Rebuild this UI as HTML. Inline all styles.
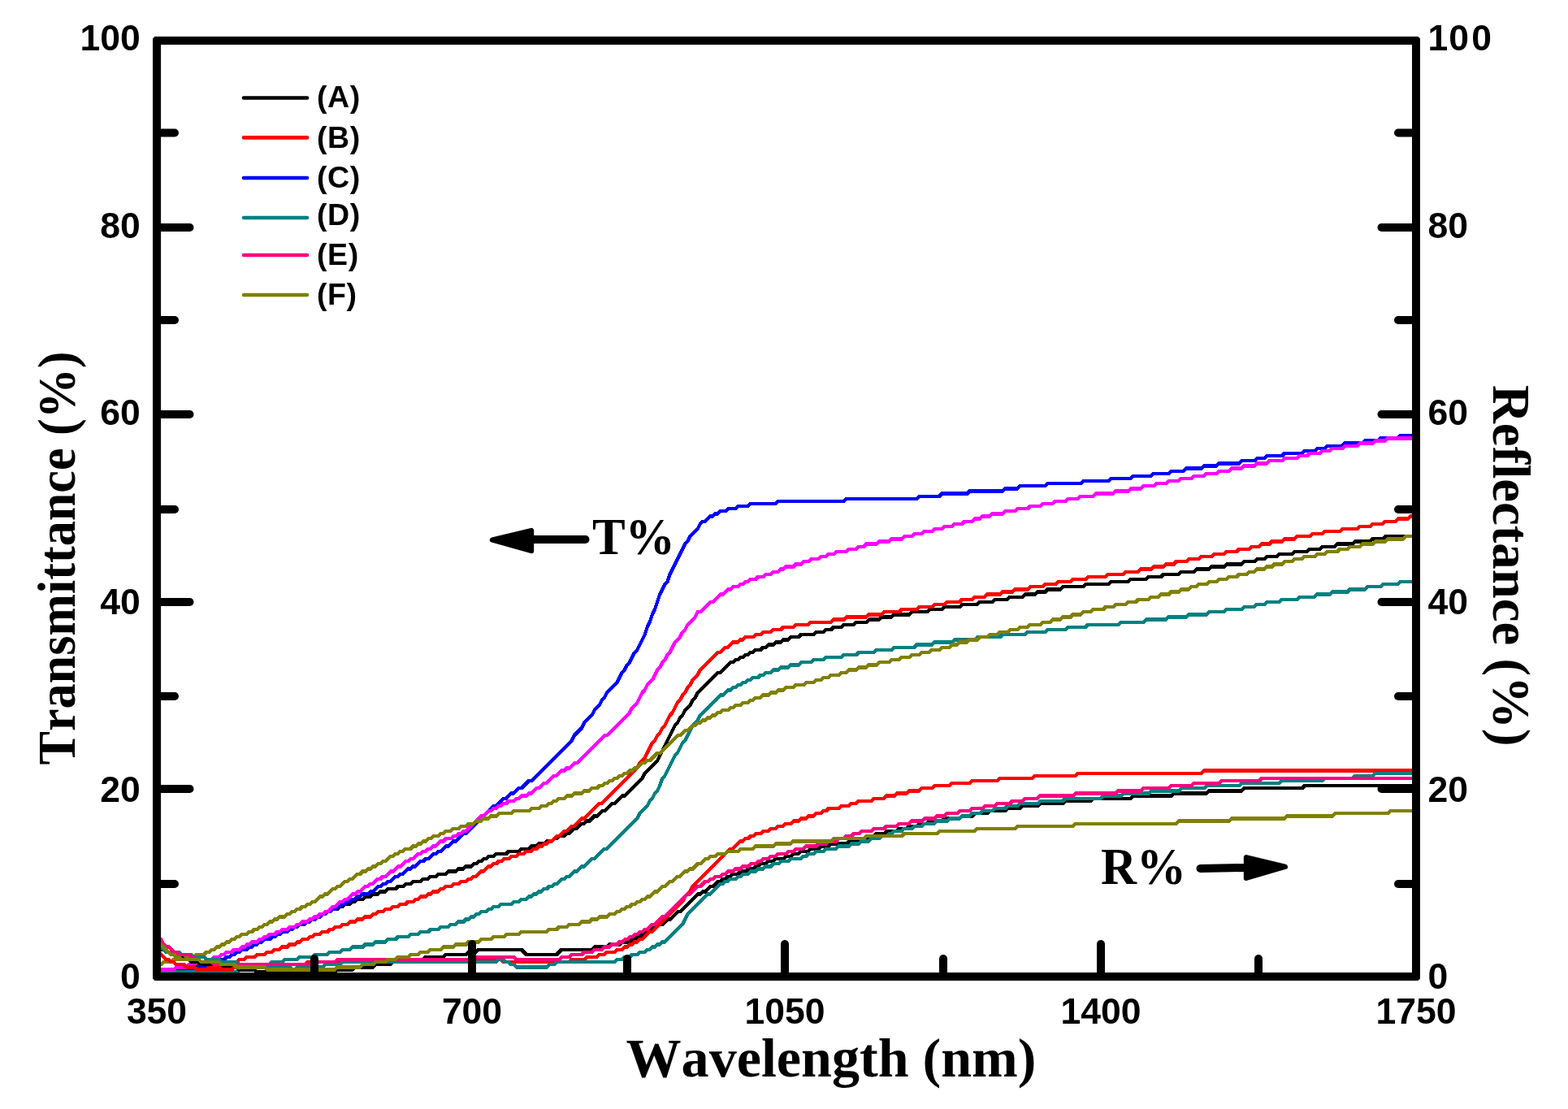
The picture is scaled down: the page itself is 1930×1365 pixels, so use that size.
<!DOCTYPE html>
<html lang="en"><head><meta charset="utf-8"><title>Transmittance and Reflectance vs Wavelength</title>
<style>
html,body{margin:0;padding:0;background:#fff;}
body{width:1930px;height:1365px;overflow:hidden;}
svg{display:block;}
.tick{font-family:"Liberation Sans",Arial,sans-serif;font-weight:bold;font-size:44.5px;fill:#000;font-kerning:none;}
.leg{font-family:"Liberation Sans",Arial,sans-serif;font-weight:bold;font-size:37.5px;fill:#000;}
.ttl{font-family:"Liberation Serif","Times New Roman",serif;font-weight:bold;fill:#000;font-kerning:none;}
.crv{fill:none;stroke-width:4.3;stroke-linejoin:miter;stroke-linecap:butt;}
</style></head><body>
<svg width="1930" height="1365" viewBox="0 0 1930 1365">
<rect x="0" y="0" width="1930" height="1365" fill="#ffffff"/>
<defs><clipPath id="plotclip"><rect x="198" y="55" width="1540" height="1143"/></clipPath></defs>
<g clip-path="url(#plotclip)" shape-rendering="crispEdges">
<path class="crv" stroke="#000000" d="M195.3,1196.6 L213.9,1196.6 L217.0,1193.5 L229.4,1193.5 L232.5,1190.4 L238.7,1190.4 L241.8,1187.3 L244.9,1187.3 L248.0,1184.2 L251.1,1184.2 L254.2,1181.1 L260.4,1181.1 L263.5,1178.0 L269.7,1178.0 L272.8,1174.9 L275.9,1174.9 L279.0,1171.8 L285.2,1171.8 L288.3,1168.7 L294.5,1168.7 L297.6,1165.6 L300.7,1165.6 L303.8,1162.5 L306.9,1162.5 L310.0,1159.4 L316.2,1159.4 L319.3,1156.3 L322.4,1156.3 L325.5,1153.2 L331.7,1153.2 L334.8,1150.1 L337.9,1150.1 L341.0,1147.0 L347.2,1147.0 L350.3,1143.9 L353.4,1143.9 L356.5,1140.8 L362.7,1140.8 L365.8,1137.7 L368.9,1137.7 L372.0,1134.6 L378.2,1134.6 L381.3,1131.5 L384.4,1131.5 L387.5,1128.4 L393.7,1128.4 L396.8,1125.3 L399.9,1125.3 L403.0,1122.2 L406.1,1122.2 L409.2,1119.1 L415.4,1119.1 L418.5,1116.0 L421.6,1116.0 L424.7,1112.9 L430.9,1112.9 L434.0,1109.8 L437.1,1109.8 L440.2,1106.7 L446.4,1106.7 L449.5,1103.6 L455.7,1103.6 L458.8,1100.5 L465.0,1100.5 L468.1,1097.4 L474.3,1097.4 L477.4,1094.3 L486.7,1094.3 L489.8,1091.2 L496.0,1091.2 L499.1,1088.1 L505.3,1088.1 L508.4,1085.0 L517.7,1085.0 L520.8,1081.9 L527.0,1081.9 L530.1,1078.8 L536.3,1078.8 L539.4,1075.7 L548.7,1075.7 L551.8,1072.6 L561.1,1072.6 L564.2,1069.5 L570.4,1069.5 L573.5,1066.4 L579.7,1066.4 L582.8,1063.3 L585.9,1063.3 L589.0,1060.2 L592.1,1060.2 L595.2,1057.1 L598.3,1057.1 L601.4,1054.0 L607.6,1054.0 L610.7,1050.9 L623.1,1050.9 L626.2,1047.8 L638.6,1047.8 L641.7,1044.7 L651.0,1044.7 L654.1,1041.6 L660.3,1041.6 L663.4,1038.5 L669.6,1038.5 L672.7,1035.4 L678.9,1035.4 L682.0,1032.3 L685.1,1032.3 L688.2,1029.2 L694.4,1029.2 L697.5,1026.1 L700.6,1026.1 L703.7,1023.0 L706.8,1019.9 L709.9,1019.9 L713.0,1016.8 L716.1,1013.7 L719.2,1013.7 L722.3,1010.6 L725.4,1010.6 L728.5,1007.5 L731.6,1004.4 L734.7,1004.4 L737.8,1001.3 L740.9,998.2 L744.0,998.2 L747.1,995.1 L750.2,992.0 L753.3,988.9 L756.4,988.9 L759.5,985.8 L762.6,982.7 L765.7,979.6 L768.8,979.6 L771.9,976.5 L775.0,973.4 L778.1,970.3 L781.2,967.2 L784.3,964.1 L787.4,961.0 L790.5,957.9 L793.6,951.7 L796.7,948.6 L799.8,945.5 L802.9,942.4 L806.0,939.3 L809.1,936.2 L812.2,930.0 L815.3,923.8 L818.4,917.6 L821.5,911.4 L824.6,905.2 L827.7,899.0 L830.8,892.8 L833.9,889.7 L837.0,883.5 L840.1,880.4 L843.2,874.2 L846.3,871.1 L849.4,868.0 L852.5,861.8 L855.6,858.7 L858.7,852.5 L861.8,849.4 L864.9,846.3 L868.0,843.2 L871.1,840.1 L874.2,837.0 L877.3,833.9 L880.4,830.8 L883.5,827.7 L886.6,827.7 L889.7,824.6 L892.8,821.5 L895.9,818.4 L899.0,815.3 L902.1,815.3 L905.2,812.2 L908.3,812.2 L911.4,809.1 L914.5,809.1 L917.6,806.0 L920.7,806.0 L923.8,802.9 L926.9,802.9 L930.0,799.8 L936.2,799.8 L939.3,796.7 L942.4,796.7 L945.5,793.6 L951.7,793.6 L954.8,790.5 L961.0,790.5 L964.1,787.4 L970.3,787.4 L973.4,784.3 L982.7,784.3 L985.8,781.2 L1001.3,781.2 L1004.4,778.1 L1013.7,778.1 L1016.8,775.0 L1023.0,775.0 L1026.1,771.9 L1035.4,771.9 L1038.5,768.8 L1050.9,768.8 L1054.0,765.7 L1066.4,765.7 L1069.5,762.6 L1081.9,762.6 L1085.0,759.5 L1097.4,759.5 L1100.5,756.4 L1119.1,756.4 L1122.2,753.3 L1140.8,753.3 L1143.9,750.2 L1159.4,750.2 L1162.5,747.1 L1181.1,747.1 L1184.2,744.0 L1202.8,744.0 L1205.9,740.9 L1221.4,740.9 L1224.5,737.8 L1240.0,737.8 L1243.1,734.7 L1258.6,734.7 L1261.7,731.6 L1274.1,731.6 L1277.2,728.5 L1286.5,728.5 L1289.6,725.4 L1305.1,725.4 L1308.2,722.3 L1333.0,722.3 L1336.1,719.2 L1364.0,719.2 L1367.1,716.1 L1388.8,716.1 L1391.9,713.0 L1410.5,713.0 L1413.6,709.9 L1429.1,709.9 L1432.2,706.8 L1450.8,706.8 L1453.9,703.7 L1469.4,703.7 L1472.5,700.6 L1488.0,700.6 L1491.1,697.5 L1506.6,697.5 L1509.7,694.4 L1528.3,694.4 L1531.4,691.3 L1543.8,691.3 L1546.9,688.2 L1556.2,688.2 L1559.3,685.1 L1571.7,685.1 L1574.8,682.0 L1590.3,682.0 L1593.4,678.9 L1608.9,678.9 L1612.0,675.8 L1624.4,675.8 L1627.5,672.7 L1643.0,672.7 L1646.1,669.6 L1664.7,669.6 L1667.8,666.5 L1686.4,666.5 L1689.5,663.4 L1701.9,663.4 L1705.0,660.3 L1739.1,660.3"/>
<path class="crv" stroke="#ff0000" d="M195.3,1196.6 L229.4,1196.6 L232.5,1193.5 L254.2,1193.5 L257.3,1190.4 L269.7,1190.4 L272.8,1187.3 L279.0,1187.3 L282.1,1184.2 L291.4,1184.2 L294.5,1181.1 L300.7,1181.1 L303.8,1178.0 L313.1,1178.0 L316.2,1174.9 L325.5,1174.9 L328.6,1171.8 L334.8,1171.8 L337.9,1168.7 L344.1,1168.7 L347.2,1165.6 L353.4,1165.6 L356.5,1162.5 L362.7,1162.5 L365.8,1159.4 L368.9,1159.4 L372.0,1156.3 L378.2,1156.3 L381.3,1153.2 L384.4,1153.2 L387.5,1150.1 L393.7,1150.1 L396.8,1147.0 L403.0,1147.0 L406.1,1143.9 L409.2,1143.9 L412.3,1140.8 L418.5,1140.8 L421.6,1137.7 L427.8,1137.7 L430.9,1134.6 L437.1,1134.6 L440.2,1131.5 L446.4,1131.5 L449.5,1128.4 L455.7,1128.4 L458.8,1125.3 L461.9,1125.3 L465.0,1122.2 L471.2,1122.2 L474.3,1119.1 L480.5,1119.1 L483.6,1116.0 L489.8,1116.0 L492.9,1112.9 L499.1,1112.9 L502.2,1109.8 L508.4,1109.8 L511.5,1106.7 L514.6,1106.7 L517.7,1103.6 L523.9,1103.6 L527.0,1100.5 L530.1,1100.5 L533.2,1097.4 L539.4,1097.4 L542.5,1094.3 L545.6,1094.3 L548.7,1091.2 L554.9,1091.2 L558.0,1088.1 L564.2,1088.1 L567.3,1085.0 L573.5,1085.0 L576.6,1081.9 L579.7,1081.9 L582.8,1078.8 L585.9,1078.8 L589.0,1075.7 L592.1,1072.6 L595.2,1072.6 L598.3,1069.5 L601.4,1066.4 L604.5,1066.4 L607.6,1063.3 L610.7,1063.3 L613.8,1060.2 L616.9,1060.2 L620.0,1057.1 L626.2,1057.1 L629.3,1054.0 L635.5,1054.0 L638.6,1050.9 L644.8,1050.9 L647.9,1047.8 L654.1,1047.8 L657.2,1044.7 L660.3,1044.7 L663.4,1041.6 L666.5,1041.6 L669.6,1038.5 L672.7,1038.5 L675.8,1035.4 L678.9,1035.4 L682.0,1032.3 L685.1,1029.2 L688.2,1029.2 L691.3,1026.1 L694.4,1023.0 L697.5,1023.0 L700.6,1019.9 L703.7,1016.8 L706.8,1016.8 L709.9,1013.7 L713.0,1010.6 L716.1,1007.5 L719.2,1007.5 L722.3,1004.4 L725.4,1001.3 L728.5,998.2 L731.6,995.1 L734.7,992.0 L737.8,988.9 L740.9,988.9 L744.0,985.8 L747.1,982.7 L750.2,979.6 L753.3,976.5 L756.4,973.4 L759.5,970.3 L762.6,967.2 L765.7,964.1 L768.8,961.0 L771.9,957.9 L775.0,954.8 L778.1,951.7 L781.2,948.6 L784.3,945.5 L787.4,939.3 L790.5,936.2 L793.6,933.1 L796.7,926.9 L799.8,920.7 L802.9,914.5 L806.0,911.4 L809.1,905.2 L812.2,902.1 L815.3,895.9 L818.4,892.8 L821.5,886.6 L824.6,880.4 L827.7,877.3 L830.8,871.1 L833.9,864.9 L837.0,861.8 L840.1,855.6 L843.2,852.5 L846.3,846.3 L849.4,843.2 L852.5,837.0 L855.6,833.9 L858.7,830.8 L861.8,824.6 L864.9,821.5 L868.0,818.4 L871.1,815.3 L874.2,812.2 L877.3,809.1 L880.4,806.0 L883.5,802.9 L886.6,802.9 L889.7,799.8 L892.8,796.7 L895.9,796.7 L899.0,793.6 L902.1,790.5 L908.3,790.5 L911.4,787.4 L914.5,787.4 L917.6,784.3 L926.9,784.3 L930.0,781.2 L936.2,781.2 L939.3,778.1 L948.6,778.1 L951.7,775.0 L961.0,775.0 L964.1,771.9 L976.5,771.9 L979.6,768.8 L995.1,768.8 L998.2,765.7 L1023.0,765.7 L1026.1,762.6 L1038.5,762.6 L1041.6,759.5 L1066.4,759.5 L1069.5,756.4 L1085.0,756.4 L1088.1,753.3 L1106.7,753.3 L1109.8,750.2 L1128.4,750.2 L1131.5,747.1 L1147.0,747.1 L1150.1,744.0 L1162.5,744.0 L1165.6,740.9 L1181.1,740.9 L1184.2,737.8 L1196.6,737.8 L1199.7,734.7 L1212.1,734.7 L1215.2,731.6 L1230.7,731.6 L1233.8,728.5 L1246.2,728.5 L1249.3,725.4 L1264.8,725.4 L1267.9,722.3 L1283.4,722.3 L1286.5,719.2 L1298.9,719.2 L1302.0,716.1 L1317.5,716.1 L1320.6,713.0 L1336.1,713.0 L1339.2,709.9 L1360.9,709.9 L1364.0,706.8 L1382.6,706.8 L1385.7,703.7 L1401.2,703.7 L1404.3,700.6 L1416.7,700.6 L1419.8,697.5 L1432.2,697.5 L1435.3,694.4 L1444.6,694.4 L1447.7,691.3 L1460.1,691.3 L1463.2,688.2 L1475.6,688.2 L1478.7,685.1 L1491.1,685.1 L1494.2,682.0 L1506.6,682.0 L1509.7,678.9 L1522.1,678.9 L1525.2,675.8 L1537.6,675.8 L1540.7,672.7 L1550.0,672.7 L1553.1,669.6 L1562.4,669.6 L1565.5,666.5 L1577.9,666.5 L1581.0,663.4 L1593.4,663.4 L1596.5,660.3 L1612.0,660.3 L1615.1,657.2 L1627.5,657.2 L1630.6,654.1 L1649.2,654.1 L1652.3,651.0 L1670.9,651.0 L1674.0,647.9 L1686.4,647.9 L1689.5,644.8 L1701.9,644.8 L1705.0,641.7 L1717.4,641.7 L1720.5,638.6 L1732.9,638.6 L1736.0,635.5 L1739.1,635.5"/>
<path class="crv" stroke="#0000ff" d="M195.3,1196.6 L229.4,1196.6 L232.5,1193.5 L241.8,1193.5 L244.9,1190.4 L251.1,1190.4 L254.2,1187.3 L260.4,1187.3 L263.5,1184.2 L266.6,1184.2 L269.7,1181.1 L275.9,1181.1 L279.0,1178.0 L282.1,1178.0 L285.2,1174.9 L288.3,1174.9 L291.4,1171.8 L294.5,1171.8 L297.6,1168.7 L303.8,1168.7 L306.9,1165.6 L310.0,1165.6 L313.1,1162.5 L316.2,1162.5 L319.3,1159.4 L322.4,1159.4 L325.5,1156.3 L331.7,1156.3 L334.8,1153.2 L337.9,1153.2 L341.0,1150.1 L344.1,1150.1 L347.2,1147.0 L353.4,1147.0 L356.5,1143.9 L359.6,1143.9 L362.7,1140.8 L365.8,1140.8 L368.9,1137.7 L375.1,1137.7 L378.2,1134.6 L381.3,1134.6 L384.4,1131.5 L387.5,1131.5 L390.6,1128.4 L393.7,1128.4 L396.8,1125.3 L399.9,1125.3 L403.0,1122.2 L406.1,1122.2 L409.2,1119.1 L412.3,1119.1 L415.4,1116.0 L418.5,1116.0 L421.6,1112.9 L424.7,1112.9 L427.8,1109.8 L430.9,1109.8 L434.0,1106.7 L437.1,1106.7 L440.2,1103.6 L443.3,1103.6 L446.4,1100.5 L452.6,1100.5 L455.7,1097.4 L458.8,1097.4 L461.9,1094.3 L465.0,1091.2 L468.1,1091.2 L471.2,1088.1 L474.3,1088.1 L477.4,1085.0 L480.5,1085.0 L483.6,1081.9 L486.7,1078.8 L489.8,1078.8 L492.9,1075.7 L496.0,1075.7 L499.1,1072.6 L502.2,1069.5 L505.3,1069.5 L508.4,1066.4 L511.5,1066.4 L514.6,1063.3 L517.7,1060.2 L520.8,1060.2 L523.9,1057.1 L527.0,1057.1 L530.1,1054.0 L533.2,1050.9 L536.3,1050.9 L539.4,1047.8 L542.5,1047.8 L545.6,1044.7 L548.7,1041.6 L551.8,1041.6 L554.9,1038.5 L558.0,1035.4 L561.1,1035.4 L564.2,1032.3 L567.3,1029.2 L570.4,1026.1 L573.5,1026.1 L576.6,1023.0 L579.7,1019.9 L582.8,1016.8 L585.9,1013.7 L589.0,1010.6 L592.1,1007.5 L595.2,1004.4 L598.3,1001.3 L601.4,998.2 L604.5,995.1 L607.6,992.0 L610.7,992.0 L613.8,988.9 L616.9,985.8 L620.0,982.7 L623.1,982.7 L626.2,979.6 L629.3,976.5 L632.4,976.5 L635.5,973.4 L638.6,970.3 L641.7,970.3 L644.8,967.2 L647.9,964.1 L651.0,961.0 L654.1,961.0 L657.2,957.9 L660.3,954.8 L663.4,951.7 L666.5,948.6 L669.6,945.5 L672.7,942.4 L675.8,939.3 L678.9,936.2 L682.0,933.1 L685.1,930.0 L688.2,926.9 L691.3,923.8 L694.4,920.7 L697.5,917.6 L700.6,914.5 L703.7,911.4 L706.8,905.2 L709.9,902.1 L713.0,899.0 L716.1,895.9 L719.2,889.7 L722.3,886.6 L725.4,883.5 L728.5,880.4 L731.6,874.2 L734.7,871.1 L737.8,868.0 L740.9,861.8 L744.0,858.7 L747.1,852.5 L750.2,849.4 L753.3,846.3 L756.4,843.2 L759.5,840.1 L762.6,833.9 L765.7,827.7 L768.8,824.6 L771.9,818.4 L775.0,815.3 L778.1,809.1 L781.2,802.9 L784.3,799.8 L787.4,793.6 L790.5,787.4 L793.6,781.2 L796.7,771.9 L799.8,765.7 L802.9,756.4 L806.0,750.2 L809.1,740.9 L812.2,731.6 L815.3,725.4 L818.4,719.2 L821.5,716.1 L824.6,706.8 L827.7,700.6 L830.8,694.4 L833.9,688.2 L837.0,682.0 L840.1,675.8 L843.2,669.6 L846.3,666.5 L849.4,660.3 L852.5,657.2 L855.6,654.1 L858.7,651.0 L861.8,644.8 L864.9,641.7 L868.0,641.7 L871.1,638.6 L874.2,635.5 L877.3,635.5 L880.4,632.4 L883.5,632.4 L886.6,629.3 L892.8,629.3 L895.9,626.2 L905.2,626.2 L908.3,623.1 L920.7,623.1 L923.8,620.0 L954.8,620.0 L957.9,616.9 L1038.5,616.9 L1041.6,613.8 L1128.4,613.8 L1131.5,610.7 L1156.3,610.7 L1159.4,607.6 L1190.4,607.6 L1193.5,604.5 L1233.8,604.5 L1236.9,601.4 L1252.4,601.4 L1255.5,598.3 L1286.5,598.3 L1289.6,595.2 L1329.9,595.2 L1333.0,592.1 L1364.0,592.1 L1367.1,589.0 L1391.9,589.0 L1395.0,585.9 L1416.7,585.9 L1419.8,582.8 L1438.4,582.8 L1441.5,579.7 L1457.0,579.7 L1460.1,576.6 L1478.7,576.6 L1481.8,573.5 L1497.3,573.5 L1500.4,570.4 L1525.2,570.4 L1528.3,567.3 L1543.8,567.3 L1546.9,564.2 L1556.2,564.2 L1559.3,561.1 L1577.9,561.1 L1581.0,558.0 L1602.7,558.0 L1605.8,554.9 L1618.2,554.9 L1621.3,551.8 L1630.6,551.8 L1633.7,548.7 L1652.3,548.7 L1655.4,545.6 L1677.1,545.6 L1680.2,542.5 L1695.7,542.5 L1698.8,539.4 L1720.5,539.4 L1723.6,536.3 L1739.1,536.3"/>
<path class="crv" stroke="#008080" d="M195.3,1196.6 L291.4,1196.6 L294.5,1193.5 L310.0,1193.5 L313.1,1190.4 L319.3,1190.4 L322.4,1187.3 L331.7,1187.3 L334.8,1184.2 L347.2,1184.2 L350.3,1181.1 L365.8,1181.1 L368.9,1178.0 L384.4,1178.0 L387.5,1174.9 L403.0,1174.9 L406.1,1171.8 L418.5,1171.8 L421.6,1168.7 L430.9,1168.7 L434.0,1165.6 L446.4,1165.6 L449.5,1162.5 L458.8,1162.5 L461.9,1159.4 L474.3,1159.4 L477.4,1156.3 L486.7,1156.3 L489.8,1153.2 L502.2,1153.2 L505.3,1150.1 L514.6,1150.1 L517.7,1147.0 L527.0,1147.0 L530.1,1143.9 L539.4,1143.9 L542.5,1140.8 L551.8,1140.8 L554.9,1137.7 L561.1,1137.7 L564.2,1134.6 L570.4,1134.6 L573.5,1131.5 L576.6,1131.5 L579.7,1128.4 L582.8,1128.4 L585.9,1125.3 L589.0,1125.3 L592.1,1122.2 L598.3,1122.2 L601.4,1119.1 L604.5,1119.1 L607.6,1116.0 L613.8,1116.0 L616.9,1112.9 L629.3,1112.9 L632.4,1109.8 L638.6,1109.8 L641.7,1106.7 L647.9,1106.7 L651.0,1103.6 L654.1,1103.6 L657.2,1100.5 L660.3,1100.5 L663.4,1097.4 L666.5,1097.4 L669.6,1094.3 L672.7,1094.3 L675.8,1091.2 L678.9,1091.2 L682.0,1088.1 L685.1,1088.1 L688.2,1085.0 L691.3,1081.9 L694.4,1081.9 L697.5,1078.8 L700.6,1078.8 L703.7,1075.7 L706.8,1072.6 L709.9,1072.6 L713.0,1069.5 L716.1,1066.4 L719.2,1066.4 L722.3,1063.3 L725.4,1060.2 L728.5,1057.1 L731.6,1057.1 L734.7,1054.0 L737.8,1050.9 L740.9,1047.8 L744.0,1044.7 L747.1,1044.7 L750.2,1041.6 L753.3,1038.5 L756.4,1035.4 L759.5,1032.3 L762.6,1029.2 L765.7,1026.1 L768.8,1023.0 L771.9,1019.9 L775.0,1016.8 L778.1,1013.7 L781.2,1010.6 L784.3,1007.5 L787.4,1001.3 L790.5,998.2 L793.6,995.1 L796.7,992.0 L799.8,985.8 L802.9,982.7 L806.0,976.5 L809.1,973.4 L812.2,967.2 L815.3,957.9 L818.4,954.8 L821.5,948.6 L824.6,942.4 L827.7,936.2 L830.8,930.0 L833.9,926.9 L837.0,920.7 L840.1,914.5 L843.2,911.4 L846.3,905.2 L849.4,899.0 L852.5,892.8 L855.6,889.7 L858.7,886.6 L861.8,880.4 L864.9,877.3 L868.0,874.2 L871.1,871.1 L874.2,868.0 L877.3,864.9 L880.4,861.8 L883.5,858.7 L886.6,855.6 L889.7,855.6 L892.8,852.5 L895.9,849.4 L899.0,849.4 L902.1,846.3 L905.2,846.3 L908.3,843.2 L911.4,843.2 L914.5,840.1 L917.6,840.1 L920.7,837.0 L923.8,837.0 L926.9,833.9 L933.1,833.9 L936.2,830.8 L939.3,830.8 L942.4,827.7 L948.6,827.7 L951.7,824.6 L957.9,824.6 L961.0,821.5 L970.3,821.5 L973.4,818.4 L982.7,818.4 L985.8,815.3 L998.2,815.3 L1001.3,812.2 L1013.7,812.2 L1016.8,809.1 L1035.4,809.1 L1038.5,806.0 L1054.0,806.0 L1057.1,802.9 L1075.7,802.9 L1078.8,799.8 L1097.4,799.8 L1100.5,796.7 L1125.3,796.7 L1128.4,793.6 L1147.0,793.6 L1150.1,790.5 L1171.8,790.5 L1174.9,787.4 L1199.7,787.4 L1202.8,784.3 L1230.7,784.3 L1233.8,781.2 L1261.7,781.2 L1264.8,778.1 L1286.5,778.1 L1289.6,775.0 L1311.3,775.0 L1314.4,771.9 L1336.1,771.9 L1339.2,768.8 L1376.4,768.8 L1379.5,765.7 L1407.4,765.7 L1410.5,762.6 L1435.3,762.6 L1438.4,759.5 L1460.1,759.5 L1463.2,756.4 L1484.9,756.4 L1488.0,753.3 L1506.6,753.3 L1509.7,750.2 L1528.3,750.2 L1531.4,747.1 L1543.8,747.1 L1546.9,744.0 L1556.2,744.0 L1559.3,740.9 L1574.8,740.9 L1577.9,737.8 L1596.5,737.8 L1599.6,734.7 L1618.2,734.7 L1621.3,731.6 L1636.8,731.6 L1639.9,728.5 L1658.5,728.5 L1661.6,725.4 L1680.2,725.4 L1683.3,722.3 L1698.8,722.3 L1701.9,719.2 L1720.5,719.2 L1723.6,716.1 L1739.1,716.1"/>
<path class="crv" stroke="#ff00ff" d="M195.3,1193.5 L213.9,1193.5 L217.0,1190.4 L229.4,1190.4 L232.5,1187.3 L238.7,1187.3 L241.8,1184.2 L251.1,1184.2 L254.2,1181.1 L260.4,1181.1 L263.5,1178.0 L269.7,1178.0 L272.8,1174.9 L275.9,1174.9 L279.0,1171.8 L285.2,1171.8 L288.3,1168.7 L294.5,1168.7 L297.6,1165.6 L300.7,1165.6 L303.8,1162.5 L306.9,1162.5 L310.0,1159.4 L316.2,1159.4 L319.3,1156.3 L322.4,1156.3 L325.5,1153.2 L328.6,1153.2 L331.7,1150.1 L337.9,1150.1 L341.0,1147.0 L344.1,1147.0 L347.2,1143.9 L353.4,1143.9 L356.5,1140.8 L362.7,1140.8 L365.8,1137.7 L368.9,1137.7 L372.0,1134.6 L378.2,1134.6 L381.3,1131.5 L384.4,1131.5 L387.5,1128.4 L390.6,1128.4 L393.7,1125.3 L396.8,1125.3 L399.9,1122.2 L403.0,1122.2 L406.1,1119.1 L409.2,1116.0 L412.3,1116.0 L415.4,1112.9 L418.5,1109.8 L421.6,1109.8 L424.7,1106.7 L427.8,1106.7 L430.9,1103.6 L434.0,1100.5 L437.1,1100.5 L440.2,1097.4 L443.3,1097.4 L446.4,1094.3 L449.5,1091.2 L452.6,1091.2 L455.7,1088.1 L458.8,1088.1 L461.9,1085.0 L465.0,1081.9 L468.1,1081.9 L471.2,1078.8 L474.3,1078.8 L477.4,1075.7 L480.5,1072.6 L483.6,1072.6 L486.7,1069.5 L489.8,1066.4 L492.9,1066.4 L496.0,1063.3 L499.1,1060.2 L502.2,1060.2 L505.3,1057.1 L508.4,1057.1 L511.5,1054.0 L514.6,1050.9 L517.7,1050.9 L520.8,1047.8 L523.9,1047.8 L527.0,1044.7 L530.1,1044.7 L533.2,1041.6 L536.3,1041.6 L539.4,1038.5 L542.5,1035.4 L545.6,1035.4 L548.7,1032.3 L554.9,1032.3 L558.0,1029.2 L561.1,1029.2 L564.2,1026.1 L567.3,1026.1 L570.4,1023.0 L573.5,1023.0 L576.6,1019.9 L579.7,1016.8 L582.8,1013.7 L585.9,1010.6 L589.0,1007.5 L592.1,1004.4 L595.2,1004.4 L598.3,1001.3 L601.4,998.2 L604.5,998.2 L607.6,995.1 L610.7,995.1 L613.8,992.0 L616.9,992.0 L620.0,988.9 L623.1,988.9 L626.2,985.8 L632.4,985.8 L635.5,982.7 L638.6,982.7 L641.7,979.6 L647.9,979.6 L651.0,976.5 L654.1,976.5 L657.2,973.4 L660.3,970.3 L663.4,970.3 L666.5,967.2 L669.6,964.1 L672.7,964.1 L675.8,961.0 L678.9,957.9 L682.0,954.8 L685.1,954.8 L688.2,951.7 L691.3,948.6 L694.4,948.6 L697.5,945.5 L700.6,945.5 L703.7,942.4 L706.8,939.3 L709.9,939.3 L713.0,936.2 L716.1,933.1 L719.2,930.0 L722.3,926.9 L725.4,923.8 L728.5,920.7 L731.6,917.6 L734.7,914.5 L737.8,911.4 L740.9,908.3 L744.0,905.2 L747.1,905.2 L750.2,902.1 L753.3,899.0 L756.4,895.9 L759.5,892.8 L762.6,889.7 L765.7,886.6 L768.8,883.5 L771.9,880.4 L775.0,877.3 L778.1,871.1 L781.2,868.0 L784.3,864.9 L787.4,858.7 L790.5,852.5 L793.6,849.4 L796.7,843.2 L799.8,840.1 L802.9,837.0 L806.0,830.8 L809.1,824.6 L812.2,821.5 L815.3,815.3 L818.4,812.2 L821.5,806.0 L824.6,802.9 L827.7,796.7 L830.8,790.5 L833.9,787.4 L837.0,784.3 L840.1,778.1 L843.2,775.0 L846.3,768.8 L849.4,765.7 L852.5,762.6 L855.6,759.5 L858.7,753.3 L861.8,753.3 L864.9,750.2 L868.0,747.1 L871.1,744.0 L874.2,740.9 L877.3,740.9 L880.4,737.8 L883.5,734.7 L886.6,731.6 L889.7,731.6 L892.8,728.5 L895.9,725.4 L899.0,725.4 L902.1,722.3 L908.3,722.3 L911.4,719.2 L914.5,719.2 L917.6,716.1 L920.7,716.1 L923.8,713.0 L930.0,713.0 L933.1,709.9 L939.3,709.9 L942.4,706.8 L948.6,706.8 L951.7,703.7 L957.9,703.7 L961.0,700.6 L964.1,700.6 L967.2,697.5 L976.5,697.5 L979.6,694.4 L985.8,694.4 L988.9,691.3 L995.1,691.3 L998.2,688.2 L1007.5,688.2 L1010.6,685.1 L1016.8,685.1 L1019.9,682.0 L1026.1,682.0 L1029.2,678.9 L1041.6,678.9 L1044.7,675.8 L1054.0,675.8 L1057.1,672.7 L1063.3,672.7 L1066.4,669.6 L1078.8,669.6 L1081.9,666.5 L1094.3,666.5 L1097.4,663.4 L1109.8,663.4 L1112.9,660.3 L1122.2,660.3 L1125.3,657.2 L1134.6,657.2 L1137.7,654.1 L1147.0,654.1 L1150.1,651.0 L1159.4,651.0 L1162.5,647.9 L1171.8,647.9 L1174.9,644.8 L1184.2,644.8 L1187.3,641.7 L1196.6,641.7 L1199.7,638.6 L1205.9,638.6 L1209.0,635.5 L1218.3,635.5 L1221.4,632.4 L1233.8,632.4 L1236.9,629.3 L1249.3,629.3 L1252.4,626.2 L1264.8,626.2 L1267.9,623.1 L1280.3,623.1 L1283.4,620.0 L1295.8,620.0 L1298.9,616.9 L1311.3,616.9 L1314.4,613.8 L1326.8,613.8 L1329.9,610.7 L1345.4,610.7 L1348.5,607.6 L1370.2,607.6 L1373.3,604.5 L1388.8,604.5 L1391.9,601.4 L1404.3,601.4 L1407.4,598.3 L1419.8,598.3 L1422.9,595.2 L1435.3,595.2 L1438.4,592.1 L1450.8,592.1 L1453.9,589.0 L1466.3,589.0 L1469.4,585.9 L1481.8,585.9 L1484.9,582.8 L1497.3,582.8 L1500.4,579.7 L1512.8,579.7 L1515.9,576.6 L1528.3,576.6 L1531.4,573.5 L1543.8,573.5 L1546.9,570.4 L1559.3,570.4 L1562.4,567.3 L1577.9,567.3 L1581.0,564.2 L1596.5,564.2 L1599.6,561.1 L1608.9,561.1 L1612.0,558.0 L1624.4,558.0 L1627.5,554.9 L1636.8,554.9 L1639.9,551.8 L1652.3,551.8 L1655.4,548.7 L1670.9,548.7 L1674.0,545.6 L1689.5,545.6 L1692.6,542.5 L1705.0,542.5 L1708.1,539.4 L1739.1,539.4"/>
<path class="crv" stroke="#808000" d="M195.3,1187.3 L198.4,1187.3 L201.5,1184.2 L210.8,1184.2 L213.9,1181.1 L220.1,1181.1 L223.2,1178.0 L238.7,1178.0 L241.8,1174.9 L251.1,1174.9 L254.2,1171.8 L257.3,1171.8 L260.4,1168.7 L263.5,1168.7 L266.6,1165.6 L269.7,1165.6 L272.8,1162.5 L275.9,1162.5 L279.0,1159.4 L282.1,1159.4 L285.2,1156.3 L288.3,1156.3 L291.4,1153.2 L294.5,1153.2 L297.6,1150.1 L303.8,1150.1 L306.9,1147.0 L310.0,1147.0 L313.1,1143.9 L316.2,1143.9 L319.3,1140.8 L322.4,1140.8 L325.5,1137.7 L328.6,1137.7 L331.7,1134.6 L334.8,1134.6 L337.9,1131.5 L341.0,1131.5 L344.1,1128.4 L350.3,1128.4 L353.4,1125.3 L356.5,1125.3 L359.6,1122.2 L362.7,1122.2 L365.8,1119.1 L368.9,1119.1 L372.0,1116.0 L375.1,1116.0 L378.2,1112.9 L381.3,1112.9 L384.4,1109.8 L387.5,1109.8 L390.6,1106.7 L393.7,1103.6 L396.8,1103.6 L399.9,1100.5 L403.0,1100.5 L406.1,1097.4 L409.2,1094.3 L412.3,1094.3 L415.4,1091.2 L418.5,1091.2 L421.6,1088.1 L424.7,1085.0 L427.8,1085.0 L430.9,1081.9 L434.0,1081.9 L437.1,1078.8 L440.2,1075.7 L443.3,1075.7 L446.4,1072.6 L449.5,1072.6 L452.6,1069.5 L455.7,1069.5 L458.8,1066.4 L461.9,1066.4 L465.0,1063.3 L468.1,1063.3 L471.2,1060.2 L474.3,1060.2 L477.4,1057.1 L480.5,1054.0 L483.6,1054.0 L486.7,1050.9 L489.8,1050.9 L492.9,1047.8 L496.0,1047.8 L499.1,1044.7 L505.3,1044.7 L508.4,1041.6 L511.5,1041.6 L514.6,1038.5 L517.7,1038.5 L520.8,1035.4 L523.9,1035.4 L527.0,1032.3 L530.1,1032.3 L533.2,1029.2 L539.4,1029.2 L542.5,1026.1 L545.6,1026.1 L548.7,1023.0 L554.9,1023.0 L558.0,1019.9 L564.2,1019.9 L567.3,1016.8 L573.5,1016.8 L576.6,1013.7 L582.8,1013.7 L585.9,1010.6 L592.1,1010.6 L595.2,1007.5 L601.4,1007.5 L604.5,1004.4 L610.7,1004.4 L613.8,1001.3 L629.3,1001.3 L632.4,998.2 L651.0,998.2 L654.1,995.1 L663.4,995.1 L666.5,992.0 L672.7,992.0 L675.8,988.9 L678.9,988.9 L682.0,985.8 L685.1,985.8 L688.2,982.7 L694.4,982.7 L697.5,979.6 L703.7,979.6 L706.8,976.5 L716.1,976.5 L719.2,973.4 L725.4,973.4 L728.5,970.3 L734.7,970.3 L737.8,967.2 L740.9,967.2 L744.0,964.1 L747.1,964.1 L750.2,961.0 L753.3,961.0 L756.4,957.9 L759.5,957.9 L762.6,954.8 L765.7,954.8 L768.8,951.7 L771.9,951.7 L775.0,948.6 L778.1,948.6 L781.2,945.5 L784.3,945.5 L787.4,942.4 L790.5,939.3 L793.6,939.3 L796.7,936.2 L799.8,936.2 L802.9,933.1 L806.0,930.0 L809.1,926.9 L812.2,926.9 L815.3,923.8 L818.4,920.7 L821.5,917.6 L824.6,914.5 L827.7,911.4 L830.8,908.3 L833.9,905.2 L837.0,905.2 L840.1,902.1 L843.2,899.0 L846.3,899.0 L849.4,895.9 L852.5,892.8 L855.6,892.8 L858.7,889.7 L861.8,889.7 L864.9,886.6 L868.0,886.6 L871.1,883.5 L874.2,883.5 L877.3,880.4 L880.4,880.4 L883.5,877.3 L886.6,877.3 L889.7,874.2 L895.9,874.2 L899.0,871.1 L902.1,871.1 L905.2,868.0 L911.4,868.0 L914.5,864.9 L920.7,864.9 L923.8,861.8 L926.9,861.8 L930.0,858.7 L936.2,858.7 L939.3,855.6 L945.5,855.6 L948.6,852.5 L954.8,852.5 L957.9,849.4 L964.1,849.4 L967.2,846.3 L976.5,846.3 L979.6,843.2 L988.9,843.2 L992.0,840.1 L1001.3,840.1 L1004.4,837.0 L1010.6,837.0 L1013.7,833.9 L1019.9,833.9 L1023.0,830.8 L1032.3,830.8 L1035.4,827.7 L1041.6,827.7 L1044.7,824.6 L1054.0,824.6 L1057.1,821.5 L1066.4,821.5 L1069.5,818.4 L1078.8,818.4 L1081.9,815.3 L1094.3,815.3 L1097.4,812.2 L1106.7,812.2 L1109.8,809.1 L1119.1,809.1 L1122.2,806.0 L1131.5,806.0 L1134.6,802.9 L1143.9,802.9 L1147.0,799.8 L1156.3,799.8 L1159.4,796.7 L1168.7,796.7 L1171.8,793.6 L1178.0,793.6 L1181.1,790.5 L1190.4,790.5 L1193.5,787.4 L1202.8,787.4 L1205.9,784.3 L1215.2,784.3 L1218.3,781.2 L1227.6,781.2 L1230.7,778.1 L1240.0,778.1 L1243.1,775.0 L1252.4,775.0 L1255.5,771.9 L1264.8,771.9 L1267.9,768.8 L1280.3,768.8 L1283.4,765.7 L1292.7,765.7 L1295.8,762.6 L1305.1,762.6 L1308.2,759.5 L1317.5,759.5 L1320.6,756.4 L1329.9,756.4 L1333.0,753.3 L1342.3,753.3 L1345.4,750.2 L1357.8,750.2 L1360.9,747.1 L1370.2,747.1 L1373.3,744.0 L1385.7,744.0 L1388.8,740.9 L1398.1,740.9 L1401.2,737.8 L1413.6,737.8 L1416.7,734.7 L1426.0,734.7 L1429.1,731.6 L1438.4,731.6 L1441.5,728.5 L1450.8,728.5 L1453.9,725.4 L1463.2,725.4 L1466.3,722.3 L1472.5,722.3 L1475.6,719.2 L1484.9,719.2 L1488.0,716.1 L1497.3,716.1 L1500.4,713.0 L1509.7,713.0 L1512.8,709.9 L1522.1,709.9 L1525.2,706.8 L1534.5,706.8 L1537.6,703.7 L1543.8,703.7 L1546.9,700.6 L1556.2,700.6 L1559.3,697.5 L1565.5,697.5 L1568.6,694.4 L1577.9,694.4 L1581.0,691.3 L1590.3,691.3 L1593.4,688.2 L1602.7,688.2 L1605.8,685.1 L1618.2,685.1 L1621.3,682.0 L1630.6,682.0 L1633.7,678.9 L1646.1,678.9 L1649.2,675.8 L1658.5,675.8 L1661.6,672.7 L1674.0,672.7 L1677.1,669.6 L1689.5,669.6 L1692.6,666.5 L1705.0,666.5 L1708.1,663.4 L1726.7,663.4 L1729.8,660.3 L1739.1,660.3"/>
<path class="crv" stroke="#000000" d="M195.3,1168.7 L201.5,1168.7 L204.6,1171.8 L207.7,1171.8 L210.8,1174.9 L213.9,1174.9 L217.0,1178.0 L223.2,1178.0 L226.3,1181.1 L232.5,1181.1 L235.6,1184.2 L248.0,1184.2 L251.1,1187.3 L272.8,1187.3 L275.9,1190.4 L291.4,1190.4 L294.5,1193.5 L313.1,1193.5 L316.2,1196.6 L412.3,1196.6 L415.4,1193.5 L434.0,1193.5 L437.1,1190.4 L458.8,1190.4 L461.9,1187.3 L480.5,1187.3 L483.6,1184.2 L499.1,1184.2 L502.2,1181.1 L520.8,1181.1 L523.9,1178.0 L545.6,1178.0 L548.7,1174.9 L573.5,1174.9 L576.6,1171.8 L585.9,1171.8 L589.0,1168.7 L641.7,1168.7 L644.8,1171.8 L647.9,1174.9 L685.1,1174.9 L688.2,1171.8 L691.3,1168.7 L728.5,1168.7 L731.6,1165.6 L747.1,1165.6 L750.2,1162.5 L762.6,1162.5 L765.7,1159.4 L775.0,1159.4 L778.1,1156.3 L781.2,1156.3 L784.3,1153.2 L787.4,1153.2 L790.5,1150.1 L793.6,1150.1 L796.7,1147.0 L799.8,1147.0 L802.9,1143.9 L806.0,1140.8 L809.1,1140.8 L812.2,1137.7 L815.3,1137.7 L818.4,1134.6 L821.5,1131.5 L824.6,1131.5 L827.7,1128.4 L830.8,1125.3 L833.9,1122.2 L837.0,1122.2 L840.1,1119.1 L843.2,1116.0 L846.3,1112.9 L849.4,1109.8 L852.5,1106.7 L855.6,1103.6 L858.7,1100.5 L861.8,1100.5 L864.9,1097.4 L868.0,1097.4 L871.1,1094.3 L874.2,1091.2 L877.3,1091.2 L880.4,1088.1 L883.5,1085.0 L886.6,1085.0 L889.7,1081.9 L892.8,1081.9 L895.9,1078.8 L899.0,1078.8 L902.1,1075.7 L908.3,1075.7 L911.4,1072.6 L917.6,1072.6 L920.7,1069.5 L926.9,1069.5 L930.0,1066.4 L933.1,1066.4 L936.2,1063.3 L942.4,1063.3 L945.5,1060.2 L951.7,1060.2 L954.8,1057.1 L964.1,1057.1 L967.2,1054.0 L973.4,1054.0 L976.5,1050.9 L982.7,1050.9 L985.8,1047.8 L995.1,1047.8 L998.2,1044.7 L1007.5,1044.7 L1010.6,1041.6 L1019.9,1041.6 L1023.0,1038.5 L1041.6,1038.5 L1044.7,1035.4 L1057.1,1035.4 L1060.2,1032.3 L1066.4,1032.3 L1069.5,1029.2 L1075.7,1029.2 L1078.8,1026.1 L1088.1,1026.1 L1091.2,1023.0 L1103.6,1023.0 L1106.7,1019.9 L1116.0,1019.9 L1119.1,1016.8 L1128.4,1016.8 L1131.5,1013.7 L1140.8,1013.7 L1143.9,1010.6 L1159.4,1010.6 L1162.5,1007.5 L1181.1,1007.5 L1184.2,1004.4 L1196.6,1004.4 L1199.7,1001.3 L1215.2,1001.3 L1218.3,998.2 L1236.9,998.2 L1240.0,995.1 L1255.5,995.1 L1258.6,992.0 L1277.2,992.0 L1280.3,988.9 L1308.2,988.9 L1311.3,985.8 L1342.3,985.8 L1345.4,982.7 L1391.9,982.7 L1395.0,979.6 L1441.5,979.6 L1444.6,976.5 L1484.9,976.5 L1488.0,973.4 L1528.3,973.4 L1531.4,970.3 L1602.7,970.3 L1605.8,967.2 L1739.1,967.2"/>
<path class="crv" stroke="#ff0000" d="M195.3,1171.8 L198.4,1174.9 L201.5,1178.0 L204.6,1181.1 L207.7,1181.1 L210.8,1184.2 L213.9,1184.2 L217.0,1187.3 L226.3,1187.3 L229.4,1190.4 L238.7,1190.4 L241.8,1193.5 L285.2,1193.5 L288.3,1190.4 L341.0,1190.4 L344.1,1187.3 L375.1,1187.3 L378.2,1184.2 L489.8,1184.2 L492.9,1181.1 L616.9,1181.1 L620.0,1184.2 L700.6,1184.2 L703.7,1181.1 L719.2,1181.1 L722.3,1178.0 L734.7,1178.0 L737.8,1174.9 L744.0,1174.9 L747.1,1171.8 L756.4,1171.8 L759.5,1168.7 L765.7,1168.7 L768.8,1165.6 L771.9,1165.6 L775.0,1162.5 L778.1,1162.5 L781.2,1159.4 L784.3,1159.4 L787.4,1156.3 L790.5,1156.3 L793.6,1153.2 L796.7,1150.1 L799.8,1147.0 L802.9,1147.0 L806.0,1143.9 L809.1,1140.8 L812.2,1137.7 L815.3,1134.6 L818.4,1131.5 L821.5,1128.4 L824.6,1125.3 L827.7,1122.2 L830.8,1119.1 L833.9,1116.0 L837.0,1112.9 L840.1,1109.8 L843.2,1103.6 L846.3,1100.5 L849.4,1097.4 L852.5,1091.2 L855.6,1088.1 L858.7,1085.0 L861.8,1081.9 L864.9,1078.8 L868.0,1075.7 L871.1,1072.6 L874.2,1069.5 L877.3,1066.4 L880.4,1063.3 L883.5,1060.2 L886.6,1057.1 L889.7,1054.0 L892.8,1050.9 L895.9,1047.8 L899.0,1044.7 L902.1,1044.7 L905.2,1041.6 L908.3,1038.5 L911.4,1035.4 L914.5,1035.4 L917.6,1032.3 L920.7,1032.3 L923.8,1029.2 L926.9,1029.2 L930.0,1026.1 L936.2,1026.1 L939.3,1023.0 L945.5,1023.0 L948.6,1019.9 L954.8,1019.9 L957.9,1016.8 L964.1,1016.8 L967.2,1013.7 L973.4,1013.7 L976.5,1010.6 L982.7,1010.6 L985.8,1007.5 L992.0,1007.5 L995.1,1004.4 L1001.3,1004.4 L1004.4,1001.3 L1010.6,1001.3 L1013.7,998.2 L1016.8,998.2 L1019.9,995.1 L1032.3,995.1 L1035.4,992.0 L1044.7,992.0 L1047.8,988.9 L1054.0,988.9 L1057.1,985.8 L1072.6,985.8 L1075.7,982.7 L1088.1,982.7 L1091.2,979.6 L1100.5,979.6 L1103.6,976.5 L1116.0,976.5 L1119.1,973.4 L1131.5,973.4 L1134.6,970.3 L1147.0,970.3 L1150.1,967.2 L1168.7,967.2 L1171.8,964.1 L1193.5,964.1 L1196.6,961.0 L1227.6,961.0 L1230.7,957.9 L1271.0,957.9 L1274.1,954.8 L1323.7,954.8 L1326.8,951.7 L1478.7,951.7 L1481.8,948.6 L1739.1,948.6"/>
<path class="crv" stroke="#008080" d="M195.3,1165.6 L198.4,1165.6 L201.5,1168.7 L204.6,1171.8 L220.1,1171.8 L223.2,1174.9 L235.6,1174.9 L238.7,1178.0 L251.1,1178.0 L254.2,1181.1 L269.7,1181.1 L272.8,1184.2 L291.4,1184.2 L294.5,1187.3 L325.5,1187.3 L328.6,1190.4 L356.5,1190.4 L359.6,1193.5 L362.7,1193.5 L365.8,1190.4 L396.8,1190.4 L399.9,1187.3 L418.5,1187.3 L421.6,1184.2 L610.7,1184.2 L613.8,1181.1 L620.0,1181.1 L623.1,1184.2 L626.2,1184.2 L629.3,1187.3 L632.4,1187.3 L635.5,1190.4 L672.7,1190.4 L675.8,1187.3 L682.0,1187.3 L685.1,1184.2 L756.4,1184.2 L759.5,1181.1 L765.7,1181.1 L768.8,1178.0 L775.0,1178.0 L778.1,1174.9 L784.3,1174.9 L787.4,1171.8 L793.6,1171.8 L796.7,1168.7 L799.8,1168.7 L802.9,1165.6 L806.0,1165.6 L809.1,1162.5 L812.2,1162.5 L815.3,1159.4 L818.4,1159.4 L821.5,1156.3 L824.6,1153.2 L827.7,1150.1 L830.8,1147.0 L833.9,1143.9 L837.0,1140.8 L840.1,1137.7 L843.2,1131.5 L846.3,1125.3 L849.4,1122.2 L852.5,1119.1 L855.6,1116.0 L858.7,1112.9 L861.8,1109.8 L864.9,1106.7 L868.0,1103.6 L871.1,1100.5 L874.2,1100.5 L877.3,1097.4 L880.4,1094.3 L883.5,1091.2 L886.6,1088.1 L889.7,1088.1 L892.8,1085.0 L895.9,1085.0 L899.0,1081.9 L905.2,1081.9 L908.3,1078.8 L911.4,1078.8 L914.5,1075.7 L920.7,1075.7 L923.8,1072.6 L930.0,1072.6 L933.1,1069.5 L939.3,1069.5 L942.4,1066.4 L948.6,1066.4 L951.7,1063.3 L957.9,1063.3 L961.0,1060.2 L970.3,1060.2 L973.4,1057.1 L985.8,1057.1 L988.9,1054.0 L992.0,1054.0 L995.1,1050.9 L1001.3,1050.9 L1004.4,1047.8 L1013.7,1047.8 L1016.8,1044.7 L1029.2,1044.7 L1032.3,1041.6 L1044.7,1041.6 L1047.8,1038.5 L1057.1,1038.5 L1060.2,1035.4 L1069.5,1035.4 L1072.6,1032.3 L1081.9,1032.3 L1085.0,1029.2 L1091.2,1029.2 L1094.3,1026.1 L1097.4,1026.1 L1100.5,1023.0 L1109.8,1023.0 L1112.9,1019.9 L1122.2,1019.9 L1125.3,1016.8 L1134.6,1016.8 L1137.7,1013.7 L1150.1,1013.7 L1153.2,1010.6 L1165.6,1010.6 L1168.7,1007.5 L1181.1,1007.5 L1184.2,1004.4 L1193.5,1004.4 L1196.6,1001.3 L1205.9,1001.3 L1209.0,998.2 L1221.4,998.2 L1224.5,995.1 L1236.9,995.1 L1240.0,992.0 L1252.4,992.0 L1255.5,988.9 L1277.2,988.9 L1280.3,985.8 L1308.2,985.8 L1311.3,982.7 L1354.7,982.7 L1357.8,979.6 L1379.5,979.6 L1382.6,976.5 L1413.6,976.5 L1416.7,973.4 L1450.8,973.4 L1453.9,970.3 L1481.8,970.3 L1484.9,967.2 L1525.2,967.2 L1528.3,964.1 L1574.8,964.1 L1577.9,961.0 L1627.5,961.0 L1630.6,957.9 L1664.7,957.9 L1667.8,954.8 L1689.5,954.8 L1692.6,951.7 L1739.1,951.7"/>
<path class="crv" stroke="#ff0080" d="M195.3,1156.3 L198.4,1156.3 L201.5,1162.5 L204.6,1165.6 L207.7,1165.6 L210.8,1168.7 L213.9,1171.8 L217.0,1171.8 L220.1,1174.9 L232.5,1174.9 L235.6,1178.0 L238.7,1178.0 L241.8,1181.1 L244.9,1181.1 L248.0,1184.2 L260.4,1184.2 L263.5,1187.3 L387.5,1187.3 L390.6,1184.2 L412.3,1184.2 L415.4,1181.1 L579.7,1181.1 L582.8,1178.0 L632.4,1178.0 L635.5,1181.1 L688.2,1181.1 L691.3,1178.0 L700.6,1178.0 L703.7,1174.9 L716.1,1174.9 L719.2,1171.8 L728.5,1171.8 L731.6,1168.7 L740.9,1168.7 L744.0,1165.6 L750.2,1165.6 L753.3,1162.5 L759.5,1162.5 L762.6,1159.4 L765.7,1159.4 L768.8,1156.3 L771.9,1156.3 L775.0,1153.2 L778.1,1153.2 L781.2,1150.1 L784.3,1150.1 L787.4,1147.0 L790.5,1147.0 L793.6,1143.9 L796.7,1143.9 L799.8,1140.8 L802.9,1137.7 L806.0,1137.7 L809.1,1134.6 L812.2,1131.5 L815.3,1128.4 L818.4,1128.4 L821.5,1125.3 L824.6,1122.2 L827.7,1119.1 L830.8,1116.0 L833.9,1112.9 L837.0,1109.8 L840.1,1106.7 L843.2,1103.6 L846.3,1100.5 L849.4,1100.5 L852.5,1097.4 L855.6,1094.3 L858.7,1091.2 L861.8,1091.2 L864.9,1088.1 L868.0,1085.0 L871.1,1085.0 L874.2,1081.9 L877.3,1081.9 L880.4,1078.8 L886.6,1078.8 L889.7,1075.7 L892.8,1075.7 L895.9,1072.6 L902.1,1072.6 L905.2,1069.5 L911.4,1069.5 L914.5,1066.4 L920.7,1066.4 L923.8,1063.3 L930.0,1063.3 L933.1,1060.2 L936.2,1060.2 L939.3,1057.1 L945.5,1057.1 L948.6,1054.0 L954.8,1054.0 L957.9,1050.9 L967.2,1050.9 L970.3,1047.8 L976.5,1047.8 L979.6,1044.7 L988.9,1044.7 L992.0,1041.6 L1004.4,1041.6 L1007.5,1038.5 L1016.8,1038.5 L1019.9,1035.4 L1029.2,1035.4 L1032.3,1032.3 L1038.5,1032.3 L1041.6,1029.2 L1047.8,1029.2 L1050.9,1026.1 L1057.1,1026.1 L1060.2,1023.0 L1072.6,1023.0 L1075.7,1019.9 L1088.1,1019.9 L1091.2,1016.8 L1103.6,1016.8 L1106.7,1013.7 L1119.1,1013.7 L1122.2,1010.6 L1134.6,1010.6 L1137.7,1007.5 L1150.1,1007.5 L1153.2,1004.4 L1162.5,1004.4 L1165.6,1001.3 L1178.0,1001.3 L1181.1,998.2 L1193.5,998.2 L1196.6,995.1 L1209.0,995.1 L1212.1,992.0 L1224.5,992.0 L1227.6,988.9 L1243.1,988.9 L1246.2,985.8 L1258.6,985.8 L1261.7,982.7 L1277.2,982.7 L1280.3,979.6 L1320.6,979.6 L1323.7,976.5 L1373.3,976.5 L1376.4,973.4 L1404.3,973.4 L1407.4,970.3 L1438.4,970.3 L1441.5,967.2 L1466.3,967.2 L1469.4,964.1 L1500.4,964.1 L1503.5,961.0 L1550.0,961.0 L1553.1,957.9 L1739.1,957.9"/>
<path class="crv" stroke="#808000" d="M195.3,1162.5 L198.4,1162.5 L201.5,1165.6 L204.6,1168.7 L207.7,1171.8 L210.8,1174.9 L213.9,1174.9 L217.0,1178.0 L220.1,1178.0 L223.2,1181.1 L244.9,1181.1 L248.0,1184.2 L269.7,1184.2 L272.8,1187.3 L288.3,1187.3 L291.4,1190.4 L325.5,1190.4 L328.6,1193.5 L412.3,1193.5 L415.4,1190.4 L443.3,1190.4 L446.4,1187.3 L458.8,1187.3 L461.9,1184.2 L474.3,1184.2 L477.4,1181.1 L486.7,1181.1 L489.8,1178.0 L502.2,1178.0 L505.3,1174.9 L514.6,1174.9 L517.7,1171.8 L527.0,1171.8 L530.1,1168.7 L542.5,1168.7 L545.6,1165.6 L558.0,1165.6 L561.1,1162.5 L573.5,1162.5 L576.6,1159.4 L589.0,1159.4 L592.1,1156.3 L604.5,1156.3 L607.6,1153.2 L620.0,1153.2 L623.1,1150.1 L638.6,1150.1 L641.7,1147.0 L672.7,1147.0 L675.8,1143.9 L685.1,1143.9 L688.2,1140.8 L697.5,1140.8 L700.6,1137.7 L713.0,1137.7 L716.1,1134.6 L725.4,1134.6 L728.5,1131.5 L734.7,1131.5 L737.8,1128.4 L747.1,1128.4 L750.2,1125.3 L756.4,1125.3 L759.5,1122.2 L762.6,1122.2 L765.7,1119.1 L768.8,1119.1 L771.9,1116.0 L775.0,1116.0 L778.1,1112.9 L781.2,1112.9 L784.3,1109.8 L787.4,1109.8 L790.5,1106.7 L793.6,1106.7 L796.7,1103.6 L799.8,1103.6 L802.9,1100.5 L806.0,1097.4 L809.1,1097.4 L812.2,1094.3 L815.3,1091.2 L818.4,1091.2 L821.5,1088.1 L824.6,1085.0 L827.7,1085.0 L830.8,1081.9 L833.9,1078.8 L837.0,1078.8 L840.1,1075.7 L843.2,1072.6 L846.3,1072.6 L849.4,1069.5 L852.5,1069.5 L855.6,1066.4 L858.7,1063.3 L861.8,1063.3 L864.9,1060.2 L868.0,1057.1 L871.1,1057.1 L874.2,1054.0 L880.4,1054.0 L883.5,1050.9 L892.8,1050.9 L895.9,1047.8 L908.3,1047.8 L911.4,1044.7 L926.9,1044.7 L930.0,1041.6 L951.7,1041.6 L954.8,1038.5 L973.4,1038.5 L976.5,1035.4 L1023.0,1035.4 L1026.1,1032.3 L1063.3,1032.3 L1066.4,1029.2 L1109.8,1029.2 L1112.9,1026.1 L1153.2,1026.1 L1156.3,1023.0 L1199.7,1023.0 L1202.8,1019.9 L1249.3,1019.9 L1252.4,1016.8 L1320.6,1016.8 L1323.7,1013.7 L1447.7,1013.7 L1450.8,1010.6 L1512.8,1010.6 L1515.9,1007.5 L1581.0,1007.5 L1584.1,1004.4 L1639.9,1004.4 L1643.0,1001.3 L1708.1,1001.3 L1711.2,998.2 L1739.1,998.2"/>
</g>
<path fill="#000" fill-rule="evenodd" d="M190.5,45 H1745.5 L1748,47.5 V1204.5 L1745.5,1207 H190.5 L188,1204.5 V47.5 Z M198,55 V1197 H1738 V55 Z"/>
<g stroke="#000" stroke-width="10" stroke-linecap="round" fill="none">
<line x1="196" y1="280" x2="233.5" y2="280"/>
<line x1="1740" y1="280" x2="1700.5" y2="280"/>
<line x1="196" y1="510" x2="233.5" y2="510"/>
<line x1="1740" y1="510" x2="1700.5" y2="510"/>
<line x1="196" y1="741" x2="233.5" y2="741"/>
<line x1="1740" y1="741" x2="1700.5" y2="741"/>
<line x1="196" y1="971" x2="233.5" y2="971"/>
<line x1="1740" y1="971" x2="1700.5" y2="971"/>
<line x1="196" y1="163.5" x2="215" y2="163.5"/>
<line x1="1740" y1="163.5" x2="1721" y2="163.5"/>
<line x1="196" y1="394" x2="215" y2="394"/>
<line x1="1740" y1="394" x2="1721" y2="394"/>
<line x1="196" y1="627" x2="215" y2="627"/>
<line x1="1740" y1="627" x2="1721" y2="627"/>
<line x1="196" y1="857" x2="215" y2="857"/>
<line x1="1740" y1="857" x2="1721" y2="857"/>
<line x1="196" y1="1088" x2="215" y2="1088"/>
<line x1="1740" y1="1088" x2="1721" y2="1088"/>
<line x1="581" y1="1199" x2="581" y2="1162"/>
<line x1="966" y1="1199" x2="966" y2="1162"/>
<line x1="1355" y1="1199" x2="1355" y2="1162"/>
<line x1="387" y1="1199" x2="387" y2="1180"/>
<line x1="772" y1="1199" x2="772" y2="1180"/>
<line x1="1161" y1="1199" x2="1161" y2="1180"/>
<line x1="1549" y1="1199" x2="1549" y2="1180"/>
</g>
<g class="tick">
<text x="172.8" y="62" text-anchor="end">100</text>
<text x="1757.5 1783.2 1811.2" y="62">100</text>
<text x="172.8" y="293" text-anchor="end">80</text>
<text x="1757.5" y="293" text-anchor="start">80</text>
<text x="172.8" y="523" text-anchor="end">60</text>
<text x="1757.5" y="523" text-anchor="start">60</text>
<text x="172.8" y="756" text-anchor="end">40</text>
<text x="1757.5" y="756" text-anchor="start">40</text>
<text x="172.8" y="987" text-anchor="end">20</text>
<text x="1757.5" y="987" text-anchor="start">20</text>
<text x="172.8" y="1217" text-anchor="end">0</text>
<text x="1757.5" y="1217" text-anchor="start">0</text>
<text x="193" y="1260" text-anchor="middle">350</text>
<text x="581" y="1260" text-anchor="middle">700</text>
<text x="966" y="1260" text-anchor="middle">1050</text>
<text x="1355" y="1260" text-anchor="middle">1400</text>
<text x="1743" y="1260" text-anchor="middle">1750</text>
</g>
<g>
<line x1="300" y1="120.5" x2="378" y2="120.5" stroke="#000000" stroke-width="4.6" stroke-linecap="round"/>
<text class="leg" x="390" y="131.8" letter-spacing="0.6">(A)</text>
<line x1="300" y1="169.4" x2="378" y2="169.4" stroke="#ff0000" stroke-width="4.6" stroke-linecap="round"/>
<text class="leg" x="390" y="181.8" letter-spacing="0.6">(B)</text>
<line x1="300" y1="219" x2="378" y2="219" stroke="#0000ff" stroke-width="4.6" stroke-linecap="round"/>
<text class="leg" x="390" y="230.6" letter-spacing="0.6">(C)</text>
<line x1="300" y1="268" x2="378" y2="268" stroke="#008080" stroke-width="4.6" stroke-linecap="round"/>
<text class="leg" x="390" y="276.8" letter-spacing="0.6">(D)</text>
<line x1="300" y1="314" x2="378" y2="314" stroke="#ff0080" stroke-width="4.6" stroke-linecap="round"/>
<text class="leg" x="390" y="325.7" letter-spacing="0.6">(E)</text>
<line x1="300" y1="363" x2="378" y2="363" stroke="#808000" stroke-width="4.6" stroke-linecap="round"/>
<text class="leg" x="390" y="374.6" letter-spacing="0.6">(F)</text>
</g>
<text class="ttl" font-size="68.5" x="770.5" y="1324.5" text-anchor="start" textLength="505" lengthAdjust="spacingAndGlyphs">Wavelength (nm)</text>
<text class="ttl" font-size="65" transform="translate(91.8,941.5) rotate(-90)" text-anchor="start" textLength="509" lengthAdjust="spacingAndGlyphs">Transmittance (%)</text>
<text class="ttl" font-size="66.5" transform="translate(1837.6,474) rotate(90)" text-anchor="start" textLength="444.5" lengthAdjust="spacingAndGlyphs">Reflectance (%)</text>
<text class="ttl" font-size="62.5" x="729" y="682" textLength="101.7" lengthAdjust="spacingAndGlyphs">T%</text>
<text class="ttl" font-size="62.5" x="1355" y="1088" textLength="105" lengthAdjust="spacingAndGlyphs">R%</text>
<g fill="#000" stroke="#000" stroke-linejoin="round" stroke-linecap="round">
<line x1="657" y1="664" x2="720.5" y2="664" stroke-width="10"/>
<path d="M606,664.5 L654,653 L654,678 Z" stroke-width="6.4"/>
<line x1="1477.5" y1="1069" x2="1532" y2="1068" stroke-width="10"/>
<path d="M1581.8,1066.8 L1534,1055.3 L1534,1080.7 Z" stroke-width="6.4"/>
</g>
</svg>
</body></html>
